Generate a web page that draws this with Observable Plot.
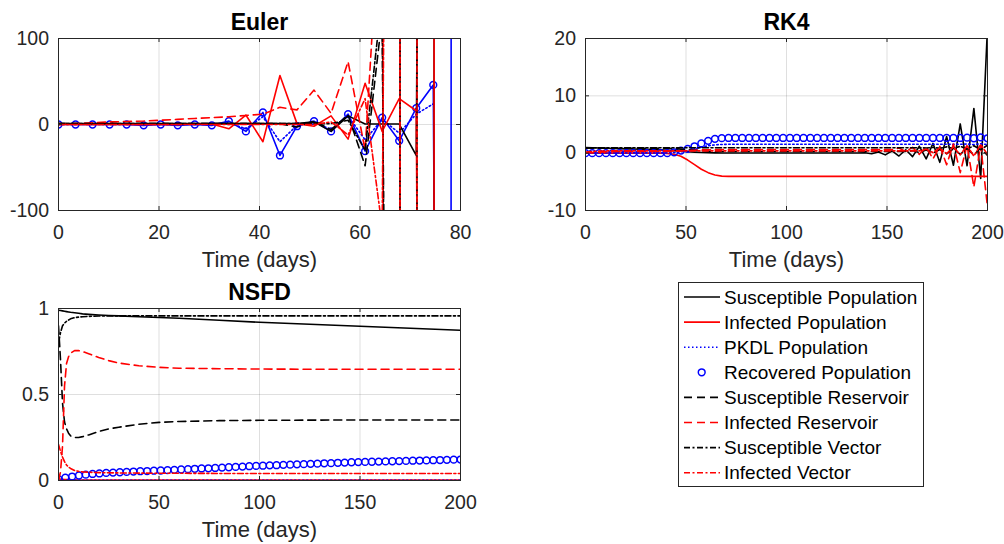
<!DOCTYPE html>
<html>
<head>
<meta charset="utf-8">
<script src="https://cdn.jsdelivr.net/npm/d3@7"></script>
<script src="https://cdn.jsdelivr.net/npm/@observablehq/plot@0.6"></script>
<style>
html, body { margin: 0; padding: 0; background: #ffffff; }
#root { position: relative; width: 1004px; height: 544px; overflow: hidden; font-family: "Liberation Sans", Arial, sans-serif; }
.panel { position: absolute; }
</style>
</head>
<body>
<div id="root"></div>
<script>
// ---------------- DATA ----------------
const seriesNames = ["Susceptible Population", "Infected Population", "PKDL Population", "Recovered Population",
  "Susceptible Reservoir", "Infected Reservoir", "Susceptible Vector", "Infected Vector"];

const panelTitles = ["Euler", "RK4", "NSFD"];
const xAxisLabel = "Time (days)";

const eulerXTicks = [0, 20, 40, 60, 80];
const eulerYTicks = [-100, 0, 100];
const rk4XTicks = [0, 50, 100, 150, 200];
const rk4YTicks = [-10, 0, 10, 20];
const nsfdXTicks = [0, 50, 100, 150, 200];
const nsfdYTicks = [0, 0.5, 1];

// shared solver time grid (days)
const timeGrid = [0, 3.39, 6.78, 10.17, 13.56, 16.95, 20.34, 23.73, 27.12, 30.51,
  33.9, 37.29, 40.68, 44.07, 47.46, 50.85, 54.24, 57.63, 61.02, 64.41,
  67.8, 71.19, 74.58, 77.97, 81.36, 84.75, 88.14, 91.53, 94.92, 98.31,
  101.69, 105.08, 108.47, 111.86, 115.25, 118.64, 122.03, 125.42, 128.81, 132.2,
  135.59, 138.98, 142.37, 145.76, 149.15, 152.54, 155.93, 159.32, 162.71, 166.1,
  169.49, 172.88, 176.27, 179.66, 183.05, 186.44, 189.83, 193.22, 196.61, 200];

// Euler (first 25 steps, blowing up)
const eulerTime = timeGrid.slice(0, 25);
const eulerS  = [1,1,1,1,1, 1,1,1,1,1, 1,1,1,1,1, 3,-8,10,0.5,0.5, 0.5,-36,3000,-60000,null];
const eulerI  = [0,0,0,0,0, 0,0,0,0.5,0.5, -5,11,-20,57,1, -2,10,-17,48,-8, 30,16,-3000,60000,null];
const eulerP  = [0,0,0,0,0, 0,0,0,0,0, 2,-5,9,-20,-1, 3,-6,10,-18,6, -10,12,24,null,null];
const eulerR  = [0,0,0,0,0, -1,0,-1,0,-1, 4,-8,14,-36,-2, 4,-8,12,-31,8, -19,19,46,-3000,60000];
const eulerSr = [1,1,1,1,1, 1,1,1,1,1, 1,1,1,1,-3, 4,-6,11,-48,125, -2500,50000,null,null,null];
const eulerIr = [0,1,2,3,3.5, 4,5,6,7,8, 9,10.5,12,20,17, 40,13,73,-30,300, -6000,120000,null,null,null];
const eulerSv = [1,1,1,1,1, 1,1,1,1,1, 1,1,1,1,1, 1,1,5,-30,150, -3000,60000,-1200000,null,null];
const eulerIv = [0,0,0,0,0, 0,0,0,0,0, 0,0,0,0,0, 0,3,-12,30,-120, 2400,-48000,960000,null,null];

// RK4 (60 steps)
const rk4S = [1.0,0.95,0.9,0.86,0.82,0.78,0.75,0.72,0.69,0.66,
  0.62,0.58,0.52,0.44,0.35,0.26,0.18,0.12,0.08,0.05,
  0.03,0.03,0.03,0.03,0.03,0.03,0.03,0.03,0.03,0.03,
  0.03,0.03,0.03,0.03,0.03,0.03,0.03,0.03,0.03,0.03,
  0.03,0.08,-0.1,0.2,-0.3,0.4,-0.5,0.6,-0.6,1.2,
  -1.0,1.7,-1.6,2.9,-2.1,5.1,-2.2,7.8,-4.4,22];
const rk4I = [0,0,0,0,0,0,0,0,0,0,
  0,0,-0.05,-0.2,-0.55,-1.2,-2.0,-2.8,-3.4,-3.8,
  -4.0,-4.05,-4.05,-4.05,-4.05,-4.05,-4.05,-4.05,-4.05,-4.05,
  -4.05,-4.05,-4.05,-4.05,-4.05,-4.05,-4.05,-4.05,-4.05,-4.05,
  -4.05,-4.05,-4.05,-4.05,-4.05,-4.05,-4.05,-4.05,-4.05,-4.05,
  -4.05,-4.05,-4.05,-4.05,-4.05,-4.05,-4.05,-4.05,-4.05,-4.05];
const rk4P = [0.05,0.05,0.05,0.05,0.05,0.05,0.05,0.05,0.05,0.05,
  0.05,0.05,0.05,0.1,0.25,0.45,0.75,1.05,1.3,1.45,
  1.52,1.55,1.55,1.55,1.55,1.55,1.55,1.55,1.55,1.55,
  1.55,1.55,1.55,1.55,1.55,1.55,1.55,1.55,1.55,1.55,
  1.55,1.55,1.55,1.55,1.55,1.55,1.55,1.55,1.55,1.55,
  1.55,1.55,1.55,1.55,1.55,1.55,1.6,1.5,1.65,1.5];
const rk4R = [0,0,0,0,0,0,0,0,0,0,
  0,0,0,0.15,0.45,0.75,1.2,1.7,2.15,2.5,
  2.62,2.65,2.65,2.65,2.65,2.65,2.65,2.65,2.65,2.65,
  2.65,2.65,2.65,2.65,2.65,2.65,2.65,2.65,2.65,2.65,
  2.65,2.65,2.65,2.65,2.65,2.65,2.65,2.65,2.65,2.65,
  2.65,2.65,2.65,2.65,2.65,2.65,2.7,2.6,2.75,2.6];
const rk4Sr = [0.85,0.85,0.85,0.85,0.85,0.85,0.85,0.85,0.85,0.85,
  0.85,0.85,0.85,0.8,0.7,0.6,0.5,0.42,0.36,0.32,
  0.3,0.3,0.3,0.3,0.3,0.3,0.3,0.3,0.3,0.3,
  0.3,0.3,0.3,0.3,0.3,0.3,0.3,0.3,0.3,0.3,
  0.3,0.3,0.3,0.3,0.3,0.3,0.3,0.3,0.45,0.1,
  0.55,0.0,0.65,-0.1,0.75,-0.2,0.8,-0.3,0.9,-0.4];
const rk4Ir = [0.05,0.12,0.18,0.22,0.25,0.28,0.28,0.28,0.28,0.28,
  0.28,0.28,0.28,0.32,0.38,0.45,0.52,0.57,0.6,0.62,
  0.62,0.62,0.62,0.62,0.62,0.62,0.62,0.62,0.62,0.62,
  0.62,0.62,0.62,0.62,0.62,0.62,0.62,0.62,0.62,0.62,
  0.62,0.62,0.62,0.62,0.62,0.62,0.9,0.3,1.0,-0.2,
  1.1,-1.0,1.2,-2.0,1.6,-3.4,1.4,-5.9,1.4,-9.4];
const rk4Sv = [0.95,0.95,0.95,0.95,0.95,0.95,0.95,0.95,0.95,0.95,
  0.95,0.95,0.95,0.95,0.95,0.95,0.95,0.95,0.95,0.95,
  0.95,0.95,0.95,0.95,0.95,0.95,0.95,0.95,0.95,0.95,
  0.95,0.95,0.95,0.95,0.95,0.95,0.95,0.95,0.95,0.95,
  0.95,0.95,0.95,0.95,0.95,0.95,0.95,0.95,0.95,0.95,
  0.9,1.0,0.85,1.1,0.8,1.2,0.7,1.3,0.6,1.4];
const rk4Iv = [0.2,0.3,0.35,0.4,0.4,0.4,0.4,0.4,0.4,0.4,
  0.4,0.4,0.4,0.4,0.4,0.4,0.4,0.4,0.4,0.4,
  0.4,0.4,0.4,0.4,0.4,0.4,0.4,0.4,0.4,0.4,
  0.4,0.4,0.4,0.4,0.4,0.4,0.4,0.4,0.4,0.4,
  0.4,0.4,0.4,0.4,0.4,0.4,0.4,0.4,0.4,0.4,
  0.7,0.1,0.9,-0.1,1.1,-0.3,1.3,-0.5,1.5,-0.2];

// NSFD (lines on a finer grid, recovered markers on the solver grid)
const nsfdTime = [0,1,2,3,4,5,6,8,10,12,15,20,25,30,40,50,60,80,100,125,150,175,200];
const nsfdS  = [0.99,0.988,0.986,0.984,0.982,0.98,0.978,0.975,0.972,0.969,0.966,0.962,0.959,0.957,0.952,0.948,0.943,0.932,0.92,0.908,0.897,0.885,0.873];
const nsfdI  = [0.01,0.008,0.007,0.006,0.005,0.005,0.004,0.004,0.003,0.003,0.003,0.003,0.002,0.002,0.002,0.002,0.002,0.002,0.002,0.002,0.002,0.002,0.002];
const nsfdP  = [0,0.001,0.001,0.001,0.001,0.001,0.001,0.001,0.001,0.001,0.001,0.001,0.001,0.001,0.001,0.001,0.001,0.001,0.001,0.001,0.001,0.001,0.001];
const nsfdSr = [0.9,0.7,0.45,0.34,0.3,0.275,0.26,0.25,0.25,0.255,0.265,0.285,0.3,0.31,0.327,0.338,0.343,0.348,0.35,0.351,0.352,0.352,0.352];
const nsfdIr = [0,0.05,0.2,0.55,0.68,0.72,0.74,0.755,0.755,0.75,0.737,0.715,0.697,0.683,0.667,0.658,0.653,0.65,0.648,0.647,0.647,0.647,0.647];
const nsfdSv = [0.8,0.86,0.9,0.915,0.925,0.933,0.94,0.947,0.95,0.952,0.954,0.956,0.957,0.957,0.957,0.957,0.957,0.957,0.957,0.957,0.957,0.957,0.957];
const nsfdIv = [0.21,0.17,0.136,0.11,0.09,0.078,0.07,0.058,0.053,0.05,0.048,0.046,0.045,0.044,0.043,0.042,0.042,0.041,0.041,0.041,0.041,0.041,0.041];
const nsfdR = [0.008,0.016,0.023,0.029,0.034,0.038,0.041,0.044,0.046,0.048,
  0.050,0.052,0.054,0.055,0.057,0.058,0.060,0.062,0.064,0.066,
  0.068,0.070,0.071,0.073,0.075,0.077,0.079,0.081,0.083,0.085,
  0.086,0.088,0.089,0.091,0.092,0.094,0.095,0.097,0.098,0.100,
  0.101,0.103,0.104,0.106,0.107,0.108,0.109,0.110,0.111,0.112,
  0.113,0.114,0.115,0.116,0.117,0.118,0.119,0.120,0.121,0.122];

// ---------------- STYLE ----------------
const seriesColors = ["#000000", "#ff0000", "#0000ff", "#0000ff", "#000000", "#ff0000", "#000000", "#ff0000"];
const seriesDash = [null, null, "1.5,2.5", null, "8,5", "8,5", "6,2.5,2,2.5", "6,2.5,2,2.5"];
const axisColor = "#262626";
const fontFamily = '"Liberation Sans", Arial, Helvetica, sans-serif';

function buildPanel(cfg) {
  const {left, top, width, height, margins, xDomain, yDomain, xTicks, yTicks, title, series, order, recoveredLine} = cfg;
  const fw = width - margins.left - margins.right;
  const fh = height - margins.top - margins.bottom;
  const marks = [
    Plot.gridX(xTicks, {stroke: axisColor, strokeOpacity: 0.15}),
    Plot.gridY(yTicks, {stroke: axisColor, strokeOpacity: 0.15})
  ];
  for (const k of order) {
    const s = series[k];
    const data = s.t.map((t, i) => ({t, v: s.v[i]}));
    if (k === 3) {
      if (recoveredLine) marks.push(Plot.line(data, {x: "t", y: "v", stroke: seriesColors[k], strokeWidth: 1.6, clip: true}));
      marks.push(Plot.dot(data, {x: "t", y: "v", r: 3.4, stroke: seriesColors[k], strokeWidth: 1.5, fill: "none", clip: true}));
    } else {
      const o = {x: "t", y: "v", stroke: seriesColors[k], strokeWidth: 1.6, clip: true};
      if (seriesDash[k]) o.strokeDasharray = seriesDash[k];
      marks.push(Plot.line(data, o));
    }
  }
  marks.push(
    Plot.ruleX(xTicks, {stroke: axisColor, insetTop: fh - 4}),
    Plot.ruleX(xTicks, {stroke: axisColor, insetBottom: fh - 4}),
    Plot.ruleY(yTicks, {stroke: axisColor, insetRight: fw - 4}),
    Plot.ruleY(yTicks, {stroke: axisColor, insetLeft: fw - 4}),
    Plot.frame({stroke: axisColor}),
    Plot.axisX(xTicks, {tickSize: 0, tickPadding: 15, tickFormat: d => String(d), color: axisColor, fontSize: 19.5, label: null}),
    Plot.axisY(yTicks, {tickSize: 0, tickPadding: 9.5, tickFormat: d => String(d), color: axisColor, fontSize: 19.5, label: null}),
    Plot.text([title], {frameAnchor: "top", lineAnchor: "middle", dy: -16, fontSize: 23, fontWeight: "bold", fill: "#000000"}),
    Plot.text([xAxisLabel], {frameAnchor: "bottom", lineAnchor: "middle", dy: 49, fontSize: 22, fill: axisColor})
  );
  const svg = Plot.plot({
    width, height,
    marginLeft: margins.left, marginRight: margins.right, marginTop: margins.top, marginBottom: margins.bottom,
    x: {domain: xDomain, axis: null},
    y: {domain: yDomain, axis: null},
    style: {fontFamily, fontSize: "19.5px", background: "transparent", overflow: "visible"},
    marks
  });
  svg.classList.add("panel");
  svg.style.left = left + "px";
  svg.style.top = top + "px";
  document.getElementById("root").appendChild(svg);
}

function seriesFor(t, arrays) {
  return arrays.map(a => ({t, v: a}));
}

buildPanel({
  left: 0, top: 0, width: 480, height: 280,
  margins: {left: 58, right: 20, top: 38, bottom: 70},
  xDomain: [0, 80], yDomain: [-100, 100], xTicks: eulerXTicks, yTicks: eulerYTicks,
  title: panelTitles[0],
  series: seriesFor(eulerTime, [eulerS, eulerI, eulerP, eulerR, eulerSr, eulerIr, eulerSv, eulerIv]),
  order: [2, 3, 0, 1, 4, 5, 6, 7], recoveredLine: true
});

buildPanel({
  left: 500, top: 0, width: 504, height: 280,
  margins: {left: 85, right: 17, top: 38, bottom: 70},
  xDomain: [0, 200], yDomain: [-10, 20], xTicks: rk4XTicks, yTicks: rk4YTicks,
  title: panelTitles[1],
  series: seriesFor(timeGrid, [rk4S, rk4I, rk4P, rk4R, rk4Sr, rk4Ir, rk4Sv, rk4Iv]),
  order: [0, 1, 2, 3, 4, 5, 6, 7], recoveredLine: false
});

buildPanel({
  left: 0, top: 270, width: 480, height: 274,
  margins: {left: 58, right: 20, top: 38, bottom: 64},
  xDomain: [0, 200], yDomain: [0, 1], xTicks: nsfdXTicks, yTicks: nsfdYTicks,
  title: panelTitles[2],
  series: [
    {t: nsfdTime, v: nsfdS}, {t: nsfdTime, v: nsfdI}, {t: nsfdTime, v: nsfdP}, {t: timeGrid, v: nsfdR},
    {t: nsfdTime, v: nsfdSr}, {t: nsfdTime, v: nsfdIr}, {t: nsfdTime, v: nsfdSv}, {t: nsfdTime, v: nsfdIv}
  ],
  order: [0, 1, 2, 3, 4, 5, 6, 7], recoveredLine: false
});

// ---------------- LEGEND ----------------
const leg = d3.select("#root").append("svg")
  .attr("width", 260).attr("height", 220)
  .style("position", "absolute").style("left", "670px").style("top", "275px");
leg.append("rect").attr("x", 8.5).attr("y", 7.5).attr("width", 245).attr("height", 204)
  .attr("fill", "#ffffff").attr("stroke", axisColor).attr("stroke-width", 1);
seriesNames.forEach((name, k) => {
  const y = 22 + 25.1 * k;
  if (k === 3) {
    leg.append("circle").attr("cx", 31.7).attr("cy", y).attr("r", 3.4)
      .attr("fill", "none").attr("stroke", seriesColors[k]).attr("stroke-width", 1.5);
  } else {
    const ln = leg.append("line").attr("x1", 14).attr("x2", 50).attr("y1", y).attr("y2", y)
      .attr("stroke", seriesColors[k]).attr("stroke-width", 1.6);
    if (seriesDash[k]) ln.attr("stroke-dasharray", seriesDash[k]);
  }
  leg.append("text").attr("x", 54).attr("y", y).attr("dy", "0.35em")
    .attr("font-family", fontFamily).attr("font-size", 19).attr("fill", "#000000")
    .text(name);
});
</script>
</body>
</html>
